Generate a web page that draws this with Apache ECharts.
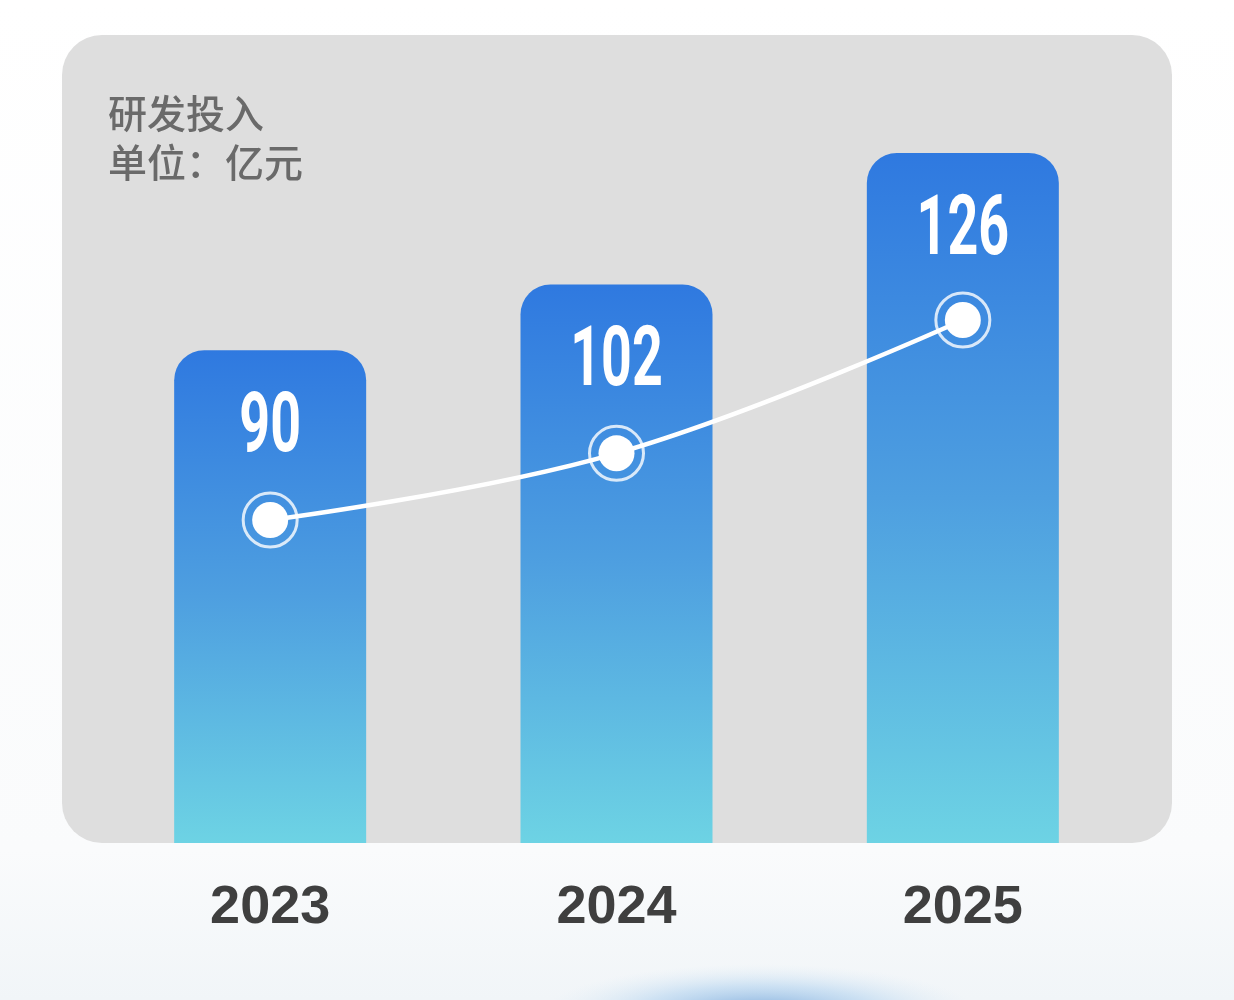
<!DOCTYPE html>
<html>
<head>
<meta charset="utf-8">
<script src="https://cdn.jsdelivr.net/npm/echarts@6/dist/echarts.min.js"></script>
<style>html,body{margin:0;padding:0;background:#fff}#main{width:1234px;height:1000px}</style>
</head>
<body>
<div id="main"></div>
<script>
const categories = ['2023', '2024', '2025'];
const rdValues = [90, 102, 126];
const titleLines = ['研发投入', '单位：亿元'];

const chart = echarts.init(document.getElementById('main'));
chart.setOption({
  backgroundColor: {
    type: 'linear', x: 0, y: 0, x2: 0, y2: 1,
    colorStops: [{offset: 0, color: '#ffffff'}, {offset: 0.85, color: '#fafbfc'}, {offset: 1, color: '#f1f5f8'}]
  },
  title: {
    text: titleLines.join('\n'),
    left: 103, top: 84,
    textStyle: {fontSize: 39, lineHeight: 49, color: '#6a6a6a', fontWeight: 500, fontFamily: 'Noto Sans CJK SC'}
  },
  graphic: [
    {type: 'rect', z: -10, shape: {x: 62, y: 35, width: 1110, height: 808, r: 40}, style: {fill: '#dedede'}},
    {type: 'circle', z: -10, x: 760, y: 1012, scaleX: 4.5, scaleY: 1, shape: {cx: 0, cy: 0, r: 48},
     style: {fill: {type: 'radial', x: 0.5, y: 0.5, r: 0.5, colorStops: [{offset: 0, color: 'rgba(95,150,210,0.8)'}, {offset: 0.55, color: 'rgba(150,195,235,0.4)'}, {offset: 1, color: 'rgba(210,230,245,0)'}]}}}
  ],
  grid: {left: 97, width: 1039, top: 153, bottom: 157},
  xAxis: {
    type: 'category', data: categories,
    axisLine: {show: false}, axisTick: {show: false},
    axisLabel: {margin: 38, fontSize: 54, fontWeight: 'bold', color: '#3f3f3f', fontFamily: 'Liberation Sans'}
  },
  yAxis: [
    {type: 'value', min: 0, max: 126, show: false, splitLine: {show: false}},
    {type: 'value', min: 31.86, max: 156.06, show: false, splitLine: {show: false}}
  ],
  series: [
    {
      type: 'bar', data: rdValues, barWidth: 192, z: 2,
      itemStyle: {
        borderRadius: [30, 30, 0, 0],
        color: {type: 'linear', x: 0, y: 0, x2: 0, y2: 1,
          colorStops: [{offset: 0, color: '#2f79e0'}, {offset: 0.5, color: '#4e9fe0'}, {offset: 1, color: '#6dd3e4'}]}
      }
    },
    {
      type: 'custom', data: rdValues, z: 6,
      renderItem: function (params, api) {
        const pt = api.coord([api.value(0), api.value(1)]);
        return {
          type: 'text', x: pt[0], y: pt[1] + 80, scaleX: 0.64,
          style: {text: String(api.value(1)), fill: '#ffffff', font: 'bold 84px Roboto', align: 'center', verticalAlign: 'middle'}
        };
      }
    },
    {
      type: 'line', yAxisIndex: 1, data: rdValues, smooth: 0.4, z: 4,
      symbol: 'circle', symbolSize: 36,
      lineStyle: {color: '#ffffff', width: 4.5},
      itemStyle: {color: '#ffffff'}
    },
    {
      type: 'scatter', yAxisIndex: 1, data: rdValues, z: 5,
      symbol: 'circle', symbolSize: 54,
      itemStyle: {color: 'rgba(0,0,0,0)', borderColor: '#ffffff', borderWidth: 3}
    }
  ]
});
</script>
</body>
</html>
